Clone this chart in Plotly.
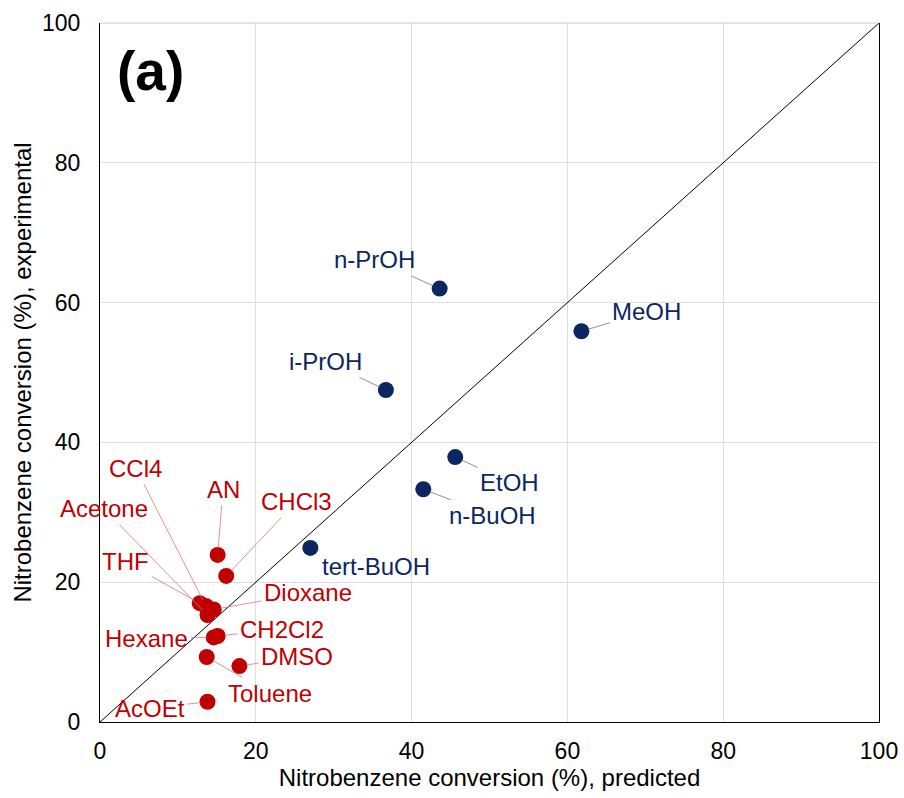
import plotly.graph_objects as go

# ---- data ----
blue_names = ["n-PrOH", "MeOH", "i-PrOH", "EtOH", "n-BuOH", "tert-BuOH"]
blue_pred = [43.6, 61.8, 36.7, 45.6, 41.5, 27.0]
blue_exp = [62.0, 55.9, 47.5, 37.9, 33.3, 24.9]

red_names = ["AN", "CHCl3", "THF", "CCl4", "Acetone", "Dioxane",
             "Hexane", "CH2Cl2", "Toluene", "DMSO", "AcOEt"]
red_pred = [15.1, 16.2, 12.8, 13.6, 13.8, 14.6, 14.6, 15.1, 13.7, 17.9, 13.8]
red_exp = [23.9, 20.9, 17.0, 16.6, 15.3, 16.1, 12.1, 12.3, 9.3, 8.0, 2.9]

ticks = [0, 20, 40, 60, 80, 100]

# label placement (data coords of label centre) -- layout only
label_pos = {
    "n-PrOH": (35.3, 66.1), "MeOH": (70.2, 58.7), "i-PrOH": (29.0, 51.6),
    "EtOH": (52.6, 34.3), "n-BuOH": (50.4, 29.5), "tert-BuOH": (35.4, 22.3),
    "CCl4": (4.6, 36.3), "AN": (15.8, 33.3), "Acetone": (0.5, 30.5),
    "CHCl3": (25.2, 31.5), "THF": (3.3, 22.9), "Dioxane": (26.7, 18.5),
    "Hexane": (6.0, 12.0), "CH2Cl2": (23.4, 13.3), "DMSO": (25.3, 9.3),
    "Toluene": (21.8, 4.1), "AcOEt": (6.4, 1.9),
}

RED = "#C00000"
BLUE = "#0C2660"
FONT = "Liberation Sans, Arial, sans-serif"

fig = go.Figure()
fig.add_trace(go.Scatter(x=[0, 100], y=[0, 100], mode="lines",
                         line=dict(color="black", width=1), hoverinfo="skip",
                         showlegend=False))
fig.add_trace(go.Scatter(x=blue_pred, y=blue_exp, mode="markers",
                         marker=dict(color=BLUE, size=16), showlegend=False,
                         text=blue_names))
fig.add_trace(go.Scatter(x=red_pred, y=red_exp, mode="markers",
                         marker=dict(color=RED, size=16), showlegend=False,
                         text=red_names))

annotations = []
for names, xs, ys, col, lcol in [(blue_names, blue_pred, blue_exp, BLUE, "#6d7690"),
                                 (red_names, red_pred, red_exp, RED, "#d07a7a")]:
    for n, x, y in zip(names, xs, ys):
        lx, ly = label_pos[n]
        annotations.append(dict(
            x=x, y=y, xref="x", yref="y", ax=lx, ay=ly, axref="x", ayref="y",
            text=n, showarrow=True, arrowhead=0, arrowwidth=0.8,
            arrowcolor=lcol, standoff=7, borderpad=2,
            font=dict(family=FONT, size=24, color=col)))

annotations.append(dict(x=0.019, y=0.979, xref="paper", yref="paper",
                        xanchor="left", yanchor="top", showarrow=False,
                        text="<b>(a)</b>",
                        font=dict(family=FONT, size=55, color="black")))

fig.update_layout(
    width=904, height=798,
    margin=dict(l=100, r=25, t=23, b=76),
    plot_bgcolor="white", paper_bgcolor="white",
    font=dict(family=FONT, size=23, color="black"),
    annotations=annotations,
    shapes=[dict(type="line", xref="paper", yref="paper", x0=0, x1=1, y0=1, y1=1,
                 line=dict(color="#c8c8c8", width=1))],
)
fig.update_xaxes(range=[0, 100], tickvals=ticks, showgrid=True, gridcolor="#dedede",
                 gridwidth=1, zeroline=False, showline=True, linecolor="black",
                 linewidth=1, ticks="", ticklabelstandoff=8, automargin=False,
                 title=dict(text="Nitrobenzene conversion (%), predicted",
                            font=dict(size=24), standoff=6),
                 tickfont=dict(size=23))
fig.update_yaxes(range=[0, 100], tickvals=ticks, showgrid=True, gridcolor="#dedede",
                 gridwidth=1, zeroline=False, showline=True, linecolor="black",
                 linewidth=1, mirror=True, ticks="", ticklabelstandoff=14,
                 automargin=False,
                 title=dict(text="Nitrobenzene conversion (%), experimental",
                            font=dict(size=24), standoff=3),
                 tickfont=dict(size=23))

fig.write_html("out.html")
